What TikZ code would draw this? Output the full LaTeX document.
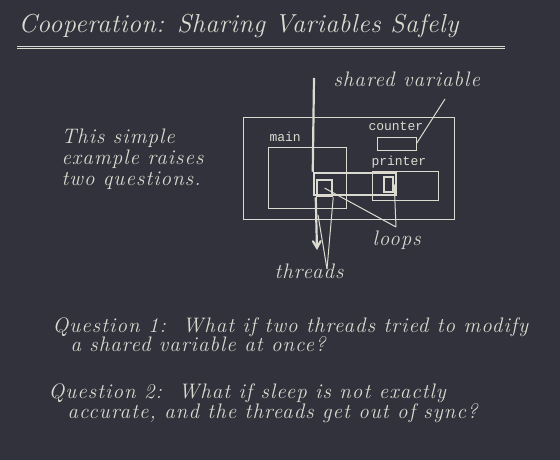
\documentclass[tikz,border=0pt]{standalone}
\usepackage{fontspec}
\setmonofont{Liberation Mono}
\usetikzlibrary{positioning,fit,arrows}
\definecolor{board}{RGB}{49,50,59}
\definecolor{chalk}{RGB}{218,218,208}
\newfontfamily\handfont[LetterSpace=5]{Latin Modern Roman}
\newfontfamily\titlefont[LetterSpace=2]{Latin Modern Roman}

\begin{document}
\begin{tikzpicture}[x=1pt,y=-1pt,chalk,line width=1pt,
  hand/.style={font=\handfont\itshape\fontsize{21}{21}\selectfont,text=chalk,inner sep=0pt,anchor=base west},
  lbl/.style={font=\ttfamily\fontsize{13}{13}\selectfont,text=chalk,inner sep=0pt,anchor=base west},
  box/.style={draw=chalk,line width=1pt,inner sep=0pt},
  loopbox/.style={box,line width=2.5pt},
  thr/.style={draw=chalk,line width=2.2pt}]
  \fill[board] (0,0) rectangle (560,460);

  \node[hand,font=\titlefont\itshape\fontsize{26}{26}\selectfont] (title) at (18,33) {Cooperation: Sharing Variables Safely};
  \coordinate (ul1) at (17,47.5);
  \coordinate (ul2) at (505,47.5);
  \draw[double=board,double distance=1pt,line width=0.8pt] (ul1) -- (ul2);

  \node[hand,align=left] (intro) at (61,185) {This simple\\example raises\\two questions.};

  % program and its boxes
  \node[box,fit={(243,117) (454,219)}] (prog) {};
  \node[box,fit={(268,147) (346,208)}] (main) {};
  \node[box,fit={(377,137) (416,150)}] (counter) {};
  \node[box,fit={(372,171) (438,200)}] (printer) {};
  \node[lbl] (mainlbl) at (269,141.5) {main};
  \node[lbl] (counterlbl) at (368,131) {counter};
  \node[lbl] (printerlbl) at (371,165) {printer};

  % threads and loops
  \coordinate (t0) at (314,78);
  \node[loopbox,fit={(314,173) (396,195)}] (loop) {};
  \node[loopbox,fit={(317,180) (332,196)}] (mloop) {};
  \node[loopbox,fit={(384,177) (393,192)}] (ploop) {};
  \draw[thr] (t0) -- (loop.north west);
  \coordinate (tend) at (317,250);
  \draw[thr,-angle 60] (mloop.south west) -- (tend);

  \node[hand] (sv) at (333,87) {shared variable};
  \coordinate (svtip) at (445,99);
  \draw (svtip) -- (counter.east);

  \node[hand] (loops) at (372,245) {loops};
  \coordinate (lptip) at (396,227);
  \draw (mloop.center) -- (lptip);
  \draw (ploop.east) -- (lptip);

  \node[hand] (threads) at (274,278) {threads};
  \coordinate (thrtip) at (327,269);
  \coordinate (stemmid) at (318,215);
  \draw (stemmid) -- (thrtip);
  \draw (mloop.south east) -- (thrtip);

  % questions
  \node[hand] (q1a) at (52,332) {Question 1:\ \ What if two threads tried to modify};
  \node[hand] (q1b) at (70,351) {a shared variable at once?};
  \node[hand] (q2a) at (48,398) {Question 2:\ \ What if sleep is not exactly};
  \node[hand] (q2b) at (67,418) {accurate, and the threads get out of sync?};
\end{tikzpicture}
\end{document}
